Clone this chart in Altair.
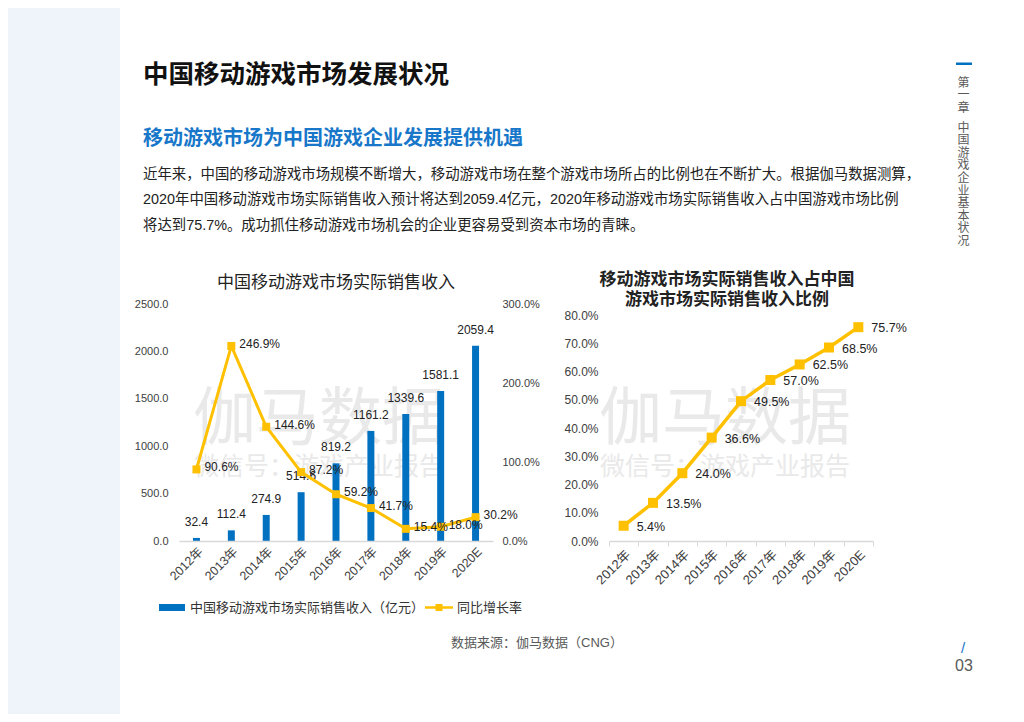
import altair as alt
import pandas as pd

# ---------------- data ----------------
years = ["2012年", "2013年", "2014年", "2015年", "2016年", "2017年", "2018年", "2019年", "2020E"]
revenue = [32.4, 112.4, 274.9, 514.6, 819.2, 1161.2, 1339.6, 1581.1, 2059.4]
growth = [0.906, 2.469, 1.446, 0.872, 0.592, 0.417, 0.154, 0.180, 0.302]
share = [0.054, 0.135, 0.240, 0.366, 0.495, 0.570, 0.625, 0.685, 0.757]

left_ticks = [0, 500, 1000, 1500, 2000, 2500]
right_ticks = [0, 0.5, 1.0, 1.5, 2.0, 2.5, 3.0]
share_ticks = [0, 0.1, 0.2, 0.3, 0.4, 0.5, 0.6, 0.7, 0.8]

page_title = "中国移动游戏市场发展状况"
section_title = "移动游戏市场为中国游戏企业发展提供机遇"
paragraph = [
    "近年来，中国的移动游戏市场规模不断增大，移动游戏市场在整个游戏市场所占的比例也在不断扩大。根据伽马数据测算，",
    "2020年中国移动游戏市场实际销售收入预计将达到2059.4亿元，2020年移动游戏市场实际销售收入占中国游戏市场比例",
    "将达到75.7%。成功抓住移动游戏市场机会的企业更容易受到资本市场的青睐。",
]
chart1_title = "中国移动游戏市场实际销售收入"
chart2_title = ["移动游戏市场实际销售收入占中国", "游戏市场实际销售收入比例"]
legend_bar = "中国移动游戏市场实际销售收入（亿元）"
legend_line = "同比增长率"
source_text = "数据来源：伽马数据（CNG）"
watermark = "伽马数据"
watermark_sub = "微信号：游戏产业报告"
side_chapter = ["第", "一", "章"]
side_title = ["中", "国", "游", "戏", "企", "业", "基", "本", "状", "况"]
page_no = "03"

# ---------------- styles ----------------
FONT = "Liberation Sans, Noto Sans CJK SC"
CJK = "Noto Sans CJK SC"
BLUE = "#0070C0"
GOLD = "#FFC000"
HEAD_BLUE = "#1877C9"
AXIS_GREY = "#d9d9d9"
LABEL = "#404040"

OX, OY = 179, 304  # page position of first plot's origin


def px(x):
    return x - OX


def py(y):
    return y - OY


one = pd.DataFrame({"k": [0]})


def txt(s, x, y, size, color, weight="normal", align="left", baseline="middle", font=FONT, **kw):
    return alt.Chart(one).mark_text(
        text=s, align=align, baseline=baseline, fontSize=size, fontWeight=weight,
        color=color, font=font, **kw
    ).encode(x=alt.value(px(x)), y=alt.value(py(y)))


def box(x0, x1, y0, y1, color, **kw):
    return alt.Chart(one).mark_rect(color=color, **kw).encode(
        x=alt.value(px(x0)), x2=alt.value(px(x1)), y=alt.value(py(y0)), y2=alt.value(py(y1))
    )


deco = [
    box(8, 1014, 8, 712, "white", opacity=0),
    box(8, 120, 8, 714, "#eef4fa"),
    txt(page_title, 143, 75, 25.5, "#111111", weight="bold"),
    txt(section_title, 143, 139, 20, HEAD_BLUE, weight="bold"),
    txt(paragraph[0], 143, 175, 14.4, "#222222"),
    txt(paragraph[1], 143, 200, 14.4, "#222222"),
    txt(paragraph[2], 143, 226, 14.4, "#222222"),
    # watermarks
    txt(watermark, 319, 420, 63, "#e9e9e9", align="center", font=CJK),
    txt(watermark_sub, 319, 467, 25, "#e9e9e9", align="center", font=CJK),
    txt(watermark, 725, 420, 63, "#e9e9e9", align="center", font=CJK),
    txt(watermark_sub, 725, 467, 25, "#e9e9e9", align="center", font=CJK),
    # chart titles
    txt(chart1_title, 336, 283, 17, "#222222", align="center"),
    txt(chart2_title, 727, 280, 17, "#222222", weight="bold", align="center", lineHeight=20),
    # legend
    box(159, 185, 604, 611, BLUE),
    txt(legend_bar, 190, 607.5, 13, "#333333"),
    alt.Chart(one).mark_rule(color=GOLD, strokeWidth=2.5).encode(
        x=alt.value(px(425)), x2=alt.value(px(453)), y=alt.value(py(607.5))
    ),
    alt.Chart(one).mark_point(shape="square", filled=True, size=50, color=GOLD, opacity=1).encode(
        x=alt.value(px(439)), y=alt.value(py(607.5))
    ),
    txt(legend_line, 457, 607.5, 13, "#333333"),
    # source
    txt(source_text, 537, 643, 13, "#595959", align="center"),
    # side label
    box(956, 972, 62.5, 65, BLUE),
    txt(side_chapter, 963.5, 77.5, 12, "#595959", align="center", baseline="top", lineHeight=12.6, font=CJK),
    txt(side_title, 963.5, 122.5, 12, "#595959", align="center", baseline="top", lineHeight=12.6, font=CJK),
    # page number
    txt("/", 963, 648, 15, HEAD_BLUE, align="center"),
    txt(page_no, 964, 666, 16, "#595959", align="center"),
]

# ---------------- chart 1: revenue bars + growth line ----------------
df1 = pd.DataFrame({
    "year": years,
    "revenue": revenue,
    "growth": growth,
})
df1["rev_label"] = [f"{v:.1f}" for v in revenue]
df1["growth_label"] = [f"{v * 100:.1f}%" for v in growth]

x_axis1 = alt.Axis(
    title=None, labelAngle=-45, ticks=False, domainColor=AXIS_GREY, domainWidth=1.5,
    labelFontSize=12.5, labelPadding=4, labelColor=LABEL, labelFont=FONT, zindex=1,
)
base1 = alt.Chart(df1).encode(
    x=alt.X("year:N", sort=years, scale=alt.Scale(paddingInner=0.8, paddingOuter=0.4), axis=x_axis1)
)

bars = base1.mark_bar(color=BLUE).encode(
    y=alt.Y(
        "revenue:Q",
        scale=alt.Scale(domain=[0, 2500], nice=False),
        axis=alt.Axis(
            title=None, values=left_ticks, format=".1f", orient="left", domain=False, ticks=False,
            grid=False, labelPadding=11, labelFontSize=11, labelColor=LABEL, labelFont=FONT, zindex=1,
        ),
    )
)
bar_text = base1.mark_text(baseline="bottom", dy=-9, fontSize=12, color="#222222", font=FONT).encode(
    y="revenue:Q", text="rev_label:N"
)
bar_layer = alt.layer(bars, bar_text)

y_growth = alt.Y(
    "growth:Q",
    scale=alt.Scale(domain=[0, 3], nice=False),
    axis=alt.Axis(
        title=None, values=right_ticks, format=".1%", orient="right", domain=False, ticks=False,
        grid=False, labelPadding=9, labelFontSize=11, labelColor=LABEL, labelFont=FONT, zindex=1,
    ),
)
gline = base1.mark_line(color=GOLD, strokeWidth=3).encode(y=y_growth)
gpts = base1.mark_point(shape="square", filled=True, size=64, color=GOLD, opacity=1).encode(y="growth:Q")
gtext = base1.mark_text(align="left", dx=8, dy=-2, fontSize=12, color="#222222", font=FONT).encode(
    y="growth:Q", text="growth_label:N"
)
line_layer = alt.layer(gline, gpts, gtext)

chart1 = alt.layer(*deco, bar_layer, line_layer).resolve_scale(y="independent").properties(
    width=314, height=237
)

# ---------------- chart 2: share line ----------------
df2 = pd.DataFrame({"year": years, "share": share})
df2["share_label"] = [f"{v * 100:.1f}%" for v in share]

base2 = alt.Chart(df2).encode(
    x=alt.X(
        "year:N", sort=years,
        scale=alt.Scale(type="band", paddingInner=0, paddingOuter=0),
        axis=alt.Axis(
            title=None, labelAngle=-45, ticks=True, tickBand="extent", tickSize=5, tickColor=AXIS_GREY,
            domainColor=AXIS_GREY, domainWidth=1.5, labelFontSize=13, labelPadding=2,
            labelColor=LABEL, labelFont=FONT, zindex=1,
        ),
    ),
    y=alt.Y(
        "share:Q",
        scale=alt.Scale(domain=[0, 0.839], nice=False),
        axis=alt.Axis(
            title=None, values=share_ticks, format=".1%", domain=False, ticks=False, grid=False,
            labelPadding=11, labelFontSize=12, labelColor=LABEL, labelFont=FONT, zindex=1,
        ),
    ),
)
sline = base2.mark_line(color=GOLD, strokeWidth=3.5)
spts = base2.mark_point(shape="square", filled=True, size=100, color=GOLD, opacity=1)
stext = base2.mark_text(align="left", dx=13, dy=1, fontSize=12.5, color="#222222", font=FONT).encode(
    text="share_label:N"
)
chart2 = alt.layer(sline, spts, stext).properties(width=264, height=237)

chart = (
    alt.hconcat(chart1, chart2, spacing=116, bounds="flush")
    .properties(padding=0)
    .configure_view(stroke=None)
    .configure_axis(grid=False)
)

chart.save("out.html", embed_options={"renderer": "svg", "actions": False})
